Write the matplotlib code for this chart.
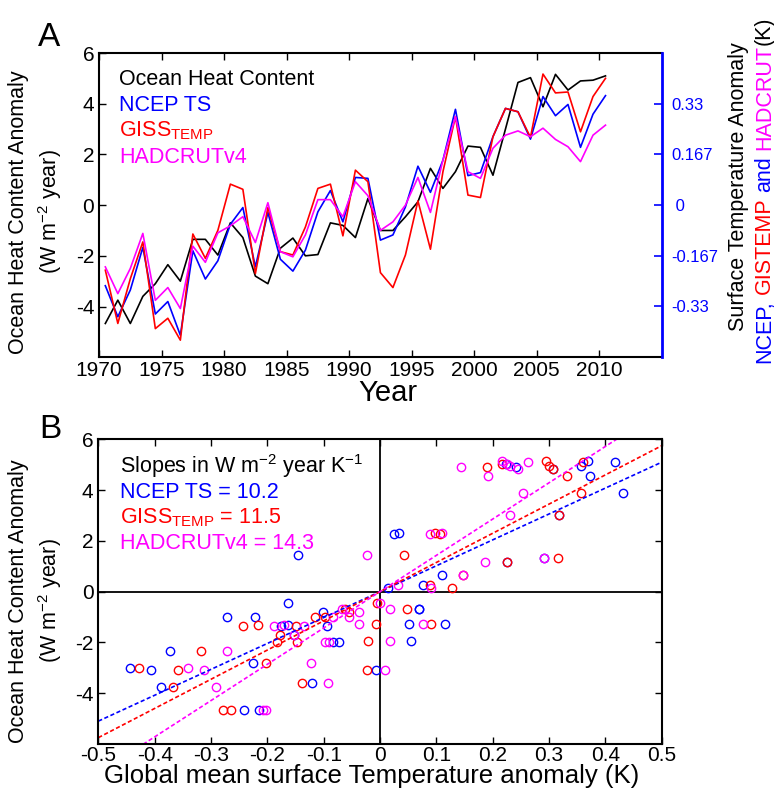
import numpy as np
import matplotlib.pyplot as plt

plt.rcParams['font.family'] = ['Liberation Sans', 'DejaVu Sans']
plt.rcParams['mathtext.fontset'] = 'custom'
plt.rcParams['mathtext.rm'] = 'Liberation Sans'
plt.rcParams['mathtext.it'] = 'Liberation Sans:italic'
plt.rcParams['mathtext.bf'] = 'Liberation Sans:bold'
plt.rcParams['axes.unicode_minus'] = False

# yearly values, mid-year
years = np.arange(1970.5, 2011.0, 1.0)

# ocean heat content anomaly (W m-2 year)
ohc = [-4.67, -3.75, -4.67, -3.6, -3.1, -2.35, -3.0, -1.35, -1.35, -1.97,
       -0.7, -1.28, -2.8, -3.1, -1.7, -1.3, -2.0, -1.95, -0.7, -0.8,
       -1.28, 0.26, -1.0, -1.0, -0.46, 0.13, 1.45, 0.66, 1.32, 2.33,
       2.28, 1.18, 3.0, 4.84, 5.03, 3.88, 5.16, 4.54, 4.9, 4.93, 5.1]

# surface temperature anomalies (K)
ncep = [-0.265, -0.367, -0.279, -0.139, -0.358, -0.317, -0.428, -0.15, -0.243, -0.183,
        -0.063, -0.008, -0.203, -0.024, -0.178, -0.217, -0.148, -0.022, 0.048, -0.055,
        0.091, 0.088, -0.115, -0.098, -0.006, 0.128, 0.042, 0.148, 0.315, 0.097,
        0.107, 0.225, 0.318, 0.307, 0.217, 0.357, 0.294, 0.331, 0.19, 0.299, 0.36]
giss = [-0.214, -0.389, -0.242, -0.121, -0.406, -0.372, -0.444, -0.095, -0.175, -0.083,
        0.069, 0.052, -0.225, -0.008, -0.153, -0.164, -0.072, 0.055, 0.069, -0.101,
        0.115, 0.077, -0.222, -0.271, -0.164, 0.014, -0.145, 0.11, 0.291, 0.033,
        0.025, 0.225, 0.318, 0.307, 0.223, 0.431, 0.369, 0.372, 0.241, 0.357, 0.417]
hadcrut = [-0.203, -0.291, -0.208, -0.093, -0.313, -0.271, -0.34, -0.135, -0.188, -0.091,
           -0.068, -0.038, -0.123, 0.008, -0.153, -0.17, -0.098, 0.018, 0.018, -0.038,
           0.077, 0.031, -0.083, -0.055, 0.0, 0.091, -0.024, 0.148, 0.291, 0.11,
           0.088, 0.187, 0.23, 0.244, 0.225, 0.253, 0.216, 0.192, 0.143, 0.23, 0.263]

# regression slopes printed in panel B (W m-2 year K-1)
slopes = [10.2, 11.5, 14.3]

yr_ticks = [1970, 1975, 1980, 1985, 1990, 1995, 2000, 2005, 2010]
ohc_ticks = [-4, -2, 0, 2, 4, 6]
t_ticks = [-0.333, -0.167, 0, 0.167, 0.333]
t_labels = ['-0.33', '-0.167', ' 0', '0.167', '0.33']
dt_ticks = [-0.5, -0.4, -0.3, -0.2, -0.1, 0, 0.1, 0.2, 0.3, 0.4, 0.5]
dt_labels = ['-0.5', '-0.4', '-0.3', '-0.2', '-0.1', '0', '0.1', '0.2', '0.3', '0.4', '0.5']

BLUE, RED, MAG = '#0000ff', '#ff0000', '#ff00ff'

W, H = 774, 792
fig = plt.figure(figsize=(W / 100, H / 100), dpi=100)

ylab = 'Ocean Heat Content Anomaly\n(W m$^{-2}$ year)'
fs = 15.5
tfs = 15

# ---- panel A: time series
axA = fig.add_axes([0.128, 0.549, 0.727, 0.384])
axA.plot(years, ohc, color='k', lw=1.2)
axA.set_xlim(1970, 2015)
axA.set_ylim(-6, 6)
axA.set_xticks(yr_ticks)
axA.set_yticks(ohc_ticks)
axA.tick_params(direction='in', top=True, labelsize=tfs, length=5, width=1)
axA.tick_params(axis='x', pad=3)
axA.spines['right'].set_visible(False)
for s in ['left', 'top', 'bottom']:
    axA.spines[s].set_linewidth(1.5)

axT = axA.twinx()
axT.plot(years, ncep, color=BLUE, lw=1.2)
axT.plot(years, giss, color=RED, lw=1.2)
axT.plot(years, hadcrut, color=MAG, lw=1.2)
axT.set_ylim(-0.5, 0.5)
axT.set_yticks(t_ticks)
axT.set_yticklabels(t_labels)
axT.tick_params(direction='in', colors=BLUE, labelsize=12, length=6, width=1.2, pad=7)
axT.spines['right'].set_color(BLUE)
axT.spines['right'].set_linewidth(2)
for s in ['left', 'top', 'bottom']:
    axT.spines[s].set_visible(False)

axA.text(0.036, 0.895, 'Ocean Heat Content', color='k', fontsize=fs, transform=axA.transAxes)
axA.text(0.036, 0.81, 'NCEP TS', color=BLUE, fontsize=fs, transform=axA.transAxes)
axA.text(0.036, 0.725, r'GISS$_{\mathrm{TEMP}}$', color=RED, fontsize=fs, transform=axA.transAxes)
axA.text(0.036, 0.64, 'HADCRUTv4', color=MAG, fontsize=fs, transform=axA.transAxes)

fig.text(388 / W, 1 - 401 / H, 'Year', fontsize=21, ha='center', va='baseline')
fig.text(36 / W, 1 - 212 / H, ylab, rotation=90, ha='center', va='center',
         fontsize=fs, linespacing=1.3)
fig.text(49 / W, 1 - 38 / H, 'A', fontsize=24, ha='center', va='center')

# right axis label, two lines, second one multicoloured
fig.text(744 / W, 1 - 187 / H, 'Surface Temperature Anomaly', rotation=90,
         rotation_mode='anchor', ha='center', va='baseline', fontsize=fs)
full = 'NCEP, GISTEMP and HADCRUT(K)'
parts = [('NCEP,', BLUE), ('GISTEMP', RED), ('and', BLUE), ('HADCRUT', MAG), ('(K)', 'k')]
rend = fig.canvas.get_renderer()


def advance(s):
    t = fig.text(0, 0, s + '|', fontsize=fs)
    w = t.get_window_extent(rend).width
    t.remove()
    return w


bar = advance('')
start = 0
for s, c in parts:
    i = full.index(s, start)
    off = advance(full[:i]) - bar
    fig.text(770 / W, (H - 363 + off) / H, s, color=c, rotation=90,
             rotation_mode='anchor', ha='left', va='baseline', fontsize=fs)
    start = i + len(s)

# ---- panel B: scatter
axB = fig.add_axes([0.127, 0.0606, 0.728, 0.3847])
axB.axhline(0, color='k', lw=1.3, zorder=1)
axB.axvline(0, color='k', lw=1.3, zorder=1)
# in the source figure the blue circles follow the red curve of panel A and vice versa
axB.plot(giss, ohc, 'o', mfc='none', mec=BLUE, ms=6, mew=1)
axB.plot(ncep, ohc, 'o', mfc='none', mec=RED, ms=6, mew=1)
axB.plot(hadcrut, ohc, 'o', mfc='none', mec=MAG, ms=6, mew=1)
xs = np.array([-0.5, 0.5])
for k, c in zip(slopes, [BLUE, RED, MAG]):
    axB.plot(xs, k * xs, color=c, lw=1.2, ls=(0, (2.5, 1.5)))
axB.set_xlim(-0.5, 0.5)
axB.set_ylim(-6, 6)
axB.set_xticks(dt_ticks)
axB.set_xticklabels(dt_labels)
axB.set_yticks(ohc_ticks)
axB.tick_params(direction='in', top=True, right=True, labelsize=tfs, length=5, width=1)
axB.tick_params(axis='x', pad=1.5)
for s in axB.spines.values():
    s.set_linewidth(1.5)

axB.text(0.039, 0.891, 'Slopes in W m$^{-2}$ year K$^{-1}$', color='k', fontsize=fs,
         transform=axB.transAxes)
axB.text(0.039, 0.809, 'NCEP TS = %.1f' % slopes[0], color=BLUE, fontsize=fs,
         transform=axB.transAxes)
axB.text(0.039, 0.725, r'GISS$_{\mathrm{TEMP}}$ = %.1f' % slopes[1], color=RED, fontsize=fs,
         transform=axB.transAxes)
axB.text(0.039, 0.64, 'HADCRUTv4 = %.1f' % slopes[2], color=MAG, fontsize=fs,
         transform=axB.transAxes)

fig.text(372 / W, 1 - 783 / H, 'Global mean surface Temperature anomaly (K)',
         fontsize=18.5, ha='center', va='baseline')
fig.text(36 / W, 1 - 601 / H, ylab, rotation=90, ha='center', va='center',
         fontsize=fs, linespacing=1.3)
fig.text(50 / W, 1 - 430 / H, 'B', fontsize=24, ha='center', va='center')

fig.savefig('out.png', dpi=100)
